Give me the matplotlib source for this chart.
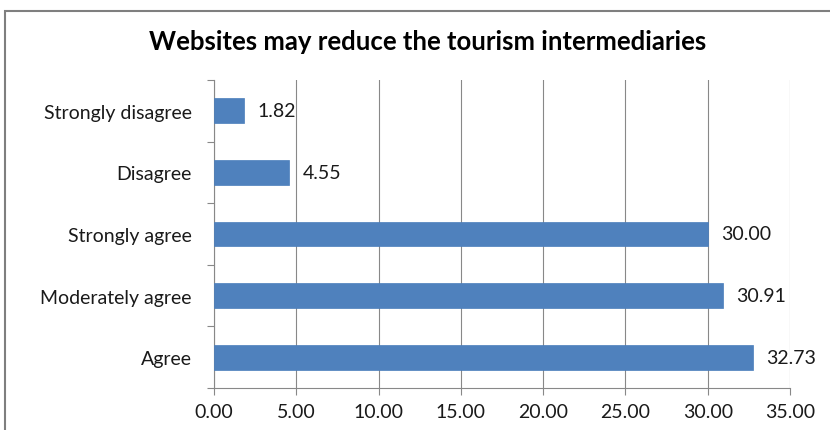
import matplotlib.pyplot as plt
import numpy as np
from matplotlib.ticker import FixedLocator, FuncFormatter
from matplotlib.patches import Rectangle

categories = ["Agree", "Moderately agree", "Strongly agree", "Disagree", "Strongly disagree"]
values = [32.73, 30.91, 30.00, 4.55, 1.82]
xticks = [0, 5, 10, 15, 20, 25, 30, 35]
title = "Websites may reduce the tourism intermediaries"

plt.rcParams['font.family'] = ['Lato', 'DejaVu Sans']

fig = plt.figure(figsize=(8.3, 4.31), dpi=100)
ax = fig.add_axes([214/830, 1 - 389/431, (790-214)/830, (389-81)/431])

y = np.arange(len(categories))
ax.barh(y, values, height=0.4, color='#4F81BD', edgecolor='#4A7EBB', linewidth=0.5, zorder=3)
for yi, v in zip(y, values):
    ax.annotate(f"{v:.2f}", (v, yi), xytext=(10, 0), textcoords='offset points',
                va='center', ha='left', fontsize=14, color='#1a1a1a', zorder=4)

ax.set_xlim(0, 35)
ax.set_ylim(-0.5, len(categories) - 0.5)
ax.set_xticks(xticks)
ax.xaxis.set_major_formatter(FuncFormatter(lambda v, p: f"{v:.2f}"))
ax.set_yticks(y)
ax.set_yticklabels(categories)
ax.yaxis.set_minor_locator(FixedLocator(np.arange(-0.5, len(categories), 1.0)))
ax.tick_params(axis='y', which='major', length=0, pad=16, labelsize=14, labelcolor='#1a1a1a')
ax.tick_params(axis='y', which='minor', length=5, width=0.8, color='#888888', direction='out')
ax.tick_params(axis='x', which='major', length=5, width=0.8, color='#888888', direction='out',
               labelsize=14, labelcolor='#1a1a1a', pad=6)
ax.grid(axis='x', color='#888888', linewidth=0.8, zorder=0)
for s in ['top', 'right']:
    ax.spines[s].set_visible(False)
for s in ['left', 'bottom']:
    ax.spines[s].set_color('#888888')
    ax.spines[s].set_linewidth(0.8)

fig.text(428/830, 1 - 42/431, title, ha='center', va='center', fontsize=18.5, fontweight='bold', color='black')

fig.patches.append(Rectangle((5/830, -0.05), 1.0, 1 - 12/431 + 0.05, transform=fig.transFigure,
                             fill=False, edgecolor='#7f7f7f', linewidth=1.5))

fig.savefig("out.png", dpi=100)
